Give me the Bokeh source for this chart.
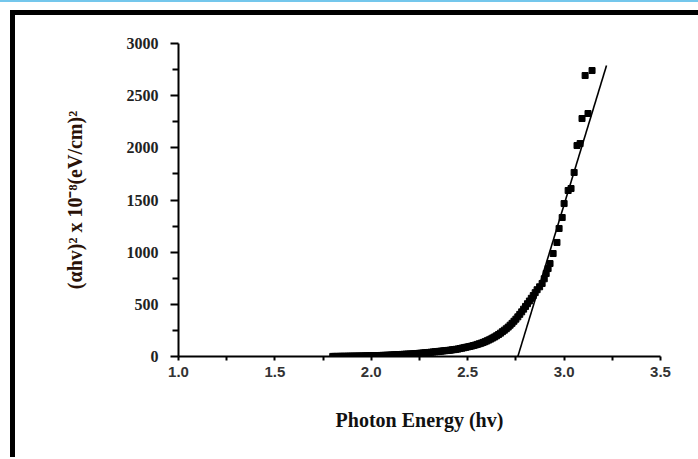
from bokeh.plotting import figure
from bokeh.layouts import column
from bokeh.models import Range1d, FixedTicker, PrintfTickFormatter
from bokeh.embed import file_html
from bokeh.resources import INLINE

# ---- data ----
energy = [1.80, 1.81, 1.82, 1.83, 1.84, 1.85, 1.86, 1.87, 1.88, 1.89,
          1.90, 1.91, 1.92, 1.93, 1.94, 1.95, 1.96, 1.97, 1.98, 1.99,
          2.00, 2.01, 2.02, 2.03, 2.04, 2.05, 2.06, 2.07, 2.08, 2.09,
          2.10, 2.11, 2.12, 2.13, 2.14, 2.15, 2.16, 2.17, 2.18, 2.19,
          2.20, 2.21, 2.22, 2.23, 2.24, 2.25, 2.26, 2.27, 2.28, 2.29,
          2.30, 2.31, 2.32, 2.33, 2.34, 2.35, 2.36, 2.37, 2.38, 2.39,
          2.40, 2.41, 2.42, 2.43, 2.44, 2.45, 2.46, 2.47, 2.48, 2.49,
          2.50, 2.51, 2.52, 2.53, 2.54, 2.55, 2.56, 2.57, 2.58, 2.59,
          2.60, 2.61, 2.62, 2.63, 2.64, 2.65, 2.66, 2.67, 2.68, 2.69,
          2.70, 2.71, 2.72, 2.73, 2.74, 2.75, 2.76, 2.77, 2.78, 2.79,
          2.80, 2.81, 2.82, 2.83, 2.84, 2.85, 2.86,
          2.873, 2.886, 2.897, 2.907, 2.917, 2.927, 2.943, 2.963, 2.974,
          2.99, 3.00, 3.021, 3.036, 3.052, 3.067, 3.083, 3.093, 3.109,
          3.124, 3.145]
alpha_hv_sq = [1, 1, 1, 1, 2, 2, 2, 2, 3, 3,
               3, 4, 4, 4, 5, 5, 5, 6, 6, 7,
               7, 8, 8, 9, 9, 10, 11, 11, 12, 13,
               14, 15, 16, 17, 18, 19, 20, 21, 22, 23,
               24, 25, 26, 28, 29, 31, 32, 34, 36, 37,
               39, 41, 43, 45, 47, 49, 51, 53, 55, 57,
               59, 61, 64, 66, 69, 72, 76, 80, 84, 88,
               92, 96, 100, 105, 110, 116, 122, 128, 135, 142,
               150, 159, 168, 178, 188, 199, 211, 224, 238, 252,
               266, 282, 300, 318, 338, 358, 380, 404, 428, 454,
               480, 506, 532, 558, 584, 612, 640,
               668, 700, 745, 795, 843, 891, 987, 1093, 1227,
               1332, 1466, 1591, 1610, 1764, 2022, 2041, 2281, 2693,
               2329, 2741]
fit_energy = [2.76, 3.22]
fit_value = [0, 2790]

x_ticks = [1.0, 1.5, 2.0, 2.5, 3.0, 3.5]
x_minor = [1.25, 1.75, 2.25, 2.75, 3.25]
y_ticks = [0, 500, 1000, 1500, 2000, 2500, 3000]
y_minor = [250, 750, 1250, 1750, 2250, 2750]

p = figure(width=683, height=442, output_backend="svg", toolbar_location=None,
           x_range=Range1d(1.0, 3.5), y_range=Range1d(0, 3000),
           min_border_left=163, min_border_right=38, min_border_top=28,
           min_border_bottom=101)
p.outline_line_color = None
p.grid.visible = False
p.background_fill_color = "white"
p.border_fill_color = "white"

p.scatter(energy, alpha_hv_sq, marker="square", size=6, color="black")
p.line(fit_energy, fit_value, line_color="black", line_width=1.6)

# axes
xa = p.xaxis[0]
xa.ticker = FixedTicker(ticks=x_ticks, minor_ticks=x_minor)
xa.formatter = PrintfTickFormatter(format="%.1f")
xa.axis_line_width = 2
xa.major_tick_line_width = 2
xa.minor_tick_line_width = 2
xa.major_tick_in = 0
xa.major_tick_out = 4
xa.minor_tick_in = 0
xa.minor_tick_out = 4
xa.major_label_standoff = 6
xa.major_label_text_font = "Liberation Sans"
xa.major_label_text_font_style = "bold"
xa.major_label_text_font_size = "15px"
xa.major_label_text_color = "#333333"
xa.axis_label = "Photon Energy (hv)"
xa.axis_label_text_font = "Liberation Serif"
xa.axis_label_text_font_style = "bold"
xa.axis_label_text_font_size = "20px"
xa.axis_label_text_color = "#111111"
xa.axis_label_standoff = 29

ya = p.yaxis[0]
ya.ticker = FixedTicker(ticks=y_ticks, minor_ticks=y_minor)
ya.axis_line_width = 2
ya.major_tick_line_width = 2
ya.minor_tick_line_width = 2
ya.major_tick_in = 0
ya.major_tick_out = 8
ya.minor_tick_in = 0
ya.minor_tick_out = 6
ya.major_label_standoff = 12
ya.major_label_text_font = "Liberation Serif"
ya.major_label_text_font_style = "bold"
ya.major_label_text_font_size = "16px"
ya.major_label_text_color = "#222222"
ya.axis_label = "(\u03b1hv)\u00b2 x 10\u207b\u2078(eV/cm)\u00b2"
ya.axis_label_text_font = "Liberation Serif"
ya.axis_label_text_font_style = "bold"
ya.axis_label_text_font_size = "20px"
ya.axis_label_text_color = "#2a1208"
ya.axis_label_standoff = 38

inner = column(p, styles={"margin-left": "10px", "margin-top": "8px",
                          "border-left": "5px solid black",
                          "border-top": "5px solid black"})
layout = column(inner, styles={"border-top": "2px solid #74c7ec"})

open("out.html", "w").write(file_html(layout, INLINE))
